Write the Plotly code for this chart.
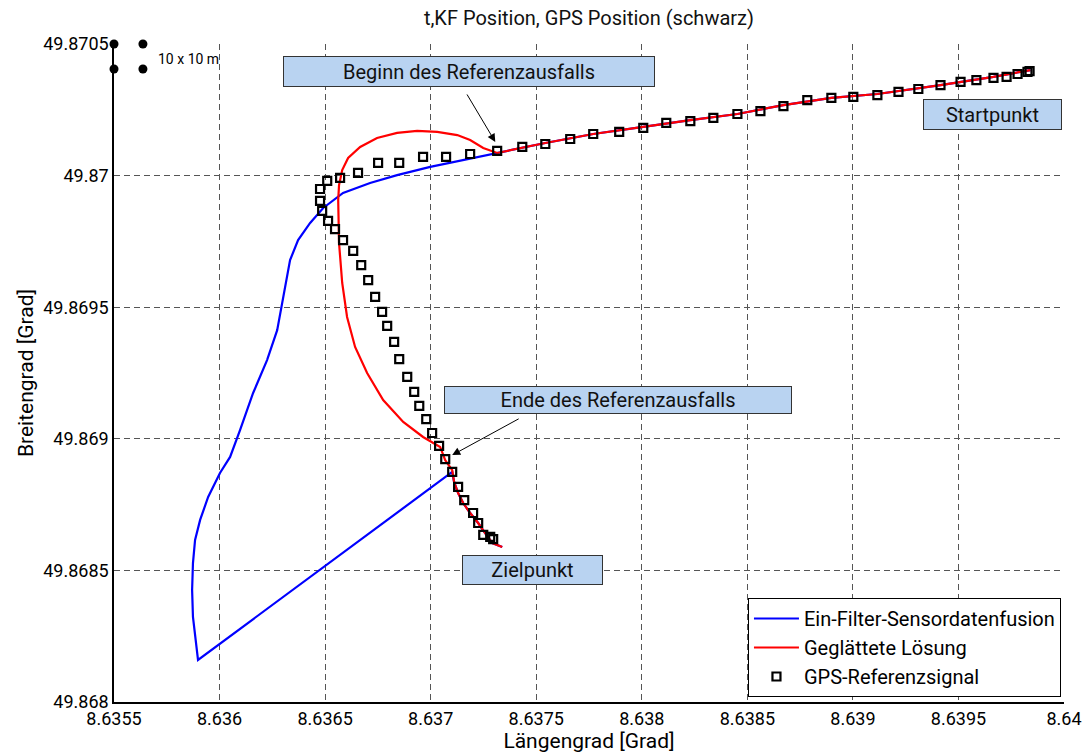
import plotly.graph_objects as go

# ---------------- data ----------------
gps_lon = [8.639837, 8.639827, 8.639780, 8.639728, 8.639666, 8.639585, 8.639510, 8.639415,
           8.639310, 8.639216, 8.639116, 8.639002, 8.638898, 8.638784, 8.638671, 8.638562,
           8.638453, 8.638339, 8.638230, 8.638116, 8.638007, 8.637893, 8.637770, 8.637661,
           8.637543, 8.637434, 8.637315, 8.637187, 8.637073, 8.636964, 8.636851, 8.636751,
           8.636656, 8.636571, 8.636510, 8.636476, 8.636476, 8.636486, 8.636514, 8.636547,
           8.636585, 8.636633, 8.636671, 8.636704, 8.636737, 8.636770, 8.636794, 8.636827,
           8.636851, 8.636889, 8.636922, 8.636946, 8.636979, 8.637007, 8.637040, 8.637069,
           8.637102, 8.637130, 8.637159, 8.637201, 8.637225, 8.637249, 8.637282, 8.637296]
gps_lat = [49.870397, 49.870394, 49.870386, 49.870375, 49.870371, 49.870363, 49.870356, 49.870344,
           49.870329, 49.870318, 49.870306, 49.870299, 49.870295, 49.870287, 49.870264, 49.870245,
           49.870234, 49.870219, 49.870207, 49.870200, 49.870181, 49.870166, 49.870158, 49.870139,
           49.870120, 49.870109, 49.870094, 49.870082, 49.870071, 49.870071, 49.870048, 49.870048,
           49.870010, 49.869991, 49.869980, 49.869949, 49.869904, 49.869866, 49.869828, 49.869797,
           49.869755, 49.869714, 49.869660, 49.869603, 49.869539, 49.869482, 49.869429, 49.869368,
           49.869303, 49.869235, 49.869178, 49.869125, 49.869075, 49.869022, 49.868973, 49.868923,
           49.868874, 49.868817, 49.868767, 49.868718, 49.868680, 49.868635, 49.868627, 49.868619]

# common part of both filter solutions (start -> beginning of outage)
common_lon = [8.639841, 8.639666, 8.639415, 8.639116, 8.638898, 8.638671, 8.638453, 8.638230,
              8.638007, 8.637770, 8.637543, 8.637315]
common_lat = [49.870401, 49.870375, 49.870344, 49.870310, 49.870295, 49.870268, 49.870234, 49.870211,
              49.870185, 49.870158, 49.870124, 49.870086]

# smoothed solution during the outage and afterwards
smooth_lon = [8.637249, 8.637187, 8.637126, 8.637031, 8.636936, 8.636841, 8.636746, 8.636666,
              8.636609, 8.636581, 8.636566, 8.636562, 8.636566, 8.636581, 8.636604, 8.636642,
              8.636699, 8.636775, 8.636870, 8.636964, 8.637045, 8.637069, 8.637102, 8.637111,
              8.637130, 8.637154, 8.637187, 8.637225, 8.637258, 8.637292, 8.637339]
smooth_lat = [49.870105, 49.870135, 49.870154, 49.870166, 49.870170, 49.870162, 49.870143, 49.870109,
              49.870067, 49.870021, 49.869964, 49.869907, 49.869744, 49.869592, 49.869463, 49.869349,
              49.869250, 49.869147, 49.869064, 49.869007, 49.868969, 49.868919, 49.868881, 49.868836,
              49.868794, 49.868756, 49.868718, 49.868680, 49.868642, 49.868604, 49.868589]

# single filter fusion during the outage
single_lon = [8.637187, 8.636998, 8.636841, 8.636713, 8.636585, 8.636491, 8.636429, 8.636372,
              8.636334, 8.636301, 8.636273, 8.636225, 8.636159, 8.636097, 8.636050, 8.636002,
              8.635946, 8.635908, 8.635884, 8.635874, 8.635870, 8.635874, 8.635898]
single_lat = [49.870067, 49.870033, 49.870002, 49.869972, 49.869934, 49.869877, 49.869820, 49.869755,
              49.869679, 49.869527, 49.869413, 49.869299, 49.869174, 49.869033, 49.868931, 49.868870,
              49.868779, 49.868692, 49.868616, 49.868528, 49.868426, 49.868323, 49.868160]
# after the reference returns, the single filter jumps back onto the smoothed track
single_tail_lon = [8.637102, 8.637111, 8.637130, 8.637154, 8.637187, 8.637225, 8.637258, 8.637292, 8.637339]
single_tail_lat = [49.868874, 49.868836, 49.868794, 49.868756, 49.868718, 49.868680, 49.868642, 49.868604, 49.868589]

scale_lon = [8.6355, 8.635637, 8.6355, 8.635637]
scale_lat = [49.8705, 49.8705, 49.870405, 49.870405]

x_ticks = [8.6355, 8.636, 8.6365, 8.637, 8.6375, 8.638, 8.6385, 8.639, 8.6395, 8.64]
x_tick_text = ["8.6355", "8.636", "8.6365", "8.637", "8.6375", "8.638", "8.6385", "8.639", "8.6395", "8.64"]
y_ticks = [49.868, 49.8685, 49.869, 49.8695, 49.87, 49.8705]
y_tick_text = ["49.868", "49.8685", "49.869", "49.8695", "49.87", "49.8705"]

FONT = "Roboto"
BOX = "#b9d3f1"

fig = go.Figure()

fig.add_trace(go.Scatter(
    x=common_lon + single_lon + single_tail_lon,
    y=common_lat + single_lat + single_tail_lat,
    mode="lines", line=dict(color="#0000ff", width=2.2),
    name="Ein-Filter-Sensordatenfusion"))

fig.add_trace(go.Scatter(
    x=common_lon + smooth_lon, y=common_lat + smooth_lat,
    mode="lines", line=dict(color="#ff0000", width=2.2),
    name="Geglättete Lösung"))

fig.add_trace(go.Scatter(
    x=gps_lon, y=gps_lat, mode="markers",
    marker=dict(symbol="square-open", size=8, color="black", line=dict(width=2.2, color="black")),
    name="GPS-Referenzsignal"))

fig.add_trace(go.Scatter(
    x=scale_lon, y=scale_lat, mode="markers",
    marker=dict(symbol="circle", size=9, color="black"),
    showlegend=False, cliponaxis=False, hoverinfo="skip"))

def box(text, x, y, w, h):
    fig.add_annotation(x=x, y=y, xref="x", yref="y", text=text, showarrow=False,
                       width=w, height=h, bgcolor=BOX, bordercolor="#333333", borderwidth=1,
                       borderpad=0, font=dict(family=FONT, size=20, color="#111111"),
                       align="center", valign="middle")

def arrow(x0, y0, x1, y1):
    fig.add_annotation(x=x1, y=y1, ax=x0, ay=y0, xref="x", yref="y", axref="x", ayref="y",
                       text="", showarrow=True, arrowhead=2, arrowsize=1.6, arrowwidth=1,
                       arrowcolor="black", standoff=0)

box("Beginn des Referenzausfalls", 8.637182, 49.870397, 370, 29)
box("Ende des Referenzausfalls", 8.637889, 49.869146, 346, 26)
box("Startpunkt", 8.639659, 49.870234, 137, 29)
box("Zielpunkt", 8.637483, 49.868503, 139, 28)
arrow(8.637168, 49.870314, 8.637306, 49.870128)
arrow(8.637424, 49.869079, 8.637102, 49.868938)

fig.add_annotation(x=8.635699, y=49.870443, xref="x", yref="y", text="10 x 10 m",
                   showarrow=False, xanchor="left", yanchor="middle",
                   font=dict(family=FONT, size=14, color="black"))

axis_common = dict(showgrid=True, gridcolor="#555555", gridwidth=1, griddash="6px,4px",
                   showline=True, linecolor="black", linewidth=1.5, zeroline=False,
                   ticks="", tickfont=dict(family=FONT, size=18, color="black"),
                   mirror=False)

fig.update_xaxes(range=[8.6355, 8.64], tickvals=x_ticks, ticktext=x_tick_text,
                 title=dict(text="Längengrad [Grad]", font=dict(family=FONT, size=21, color="black"),
                            standoff=0),
                 **axis_common)
fig.update_yaxes(range=[49.868, 49.8705], tickvals=y_ticks, ticktext=y_tick_text,
                 title=dict(text="Breitengrad [Grad]", font=dict(family=FONT, size=21, color="black"),
                            standoff=4),
                 **axis_common)

fig.update_layout(
    width=1090, height=755,
    margin=dict(l=114, r=26, t=44, b=53, autoexpand=False),
    paper_bgcolor="white", plot_bgcolor="white",
    title=dict(text="t,KF Position, GPS Position (schwarz)", x=0.5403, xanchor="center",
               y=0.976, yanchor="middle", font=dict(family=FONT, size=20, color="#111111")),
    showlegend=True,
    legend=dict(x=0.9968, y=0.0076, xanchor="right", yanchor="bottom",
                bgcolor="white", bordercolor="black", borderwidth=1,
                font=dict(family=FONT, size=20, color="black"),
                tracegroupgap=0, itemwidth=45),
)

fig.write_html("out.html", config={"displayModeBar": False},
               post_script="document.body.style.margin='0px';document.body.style.padding='0px';")
